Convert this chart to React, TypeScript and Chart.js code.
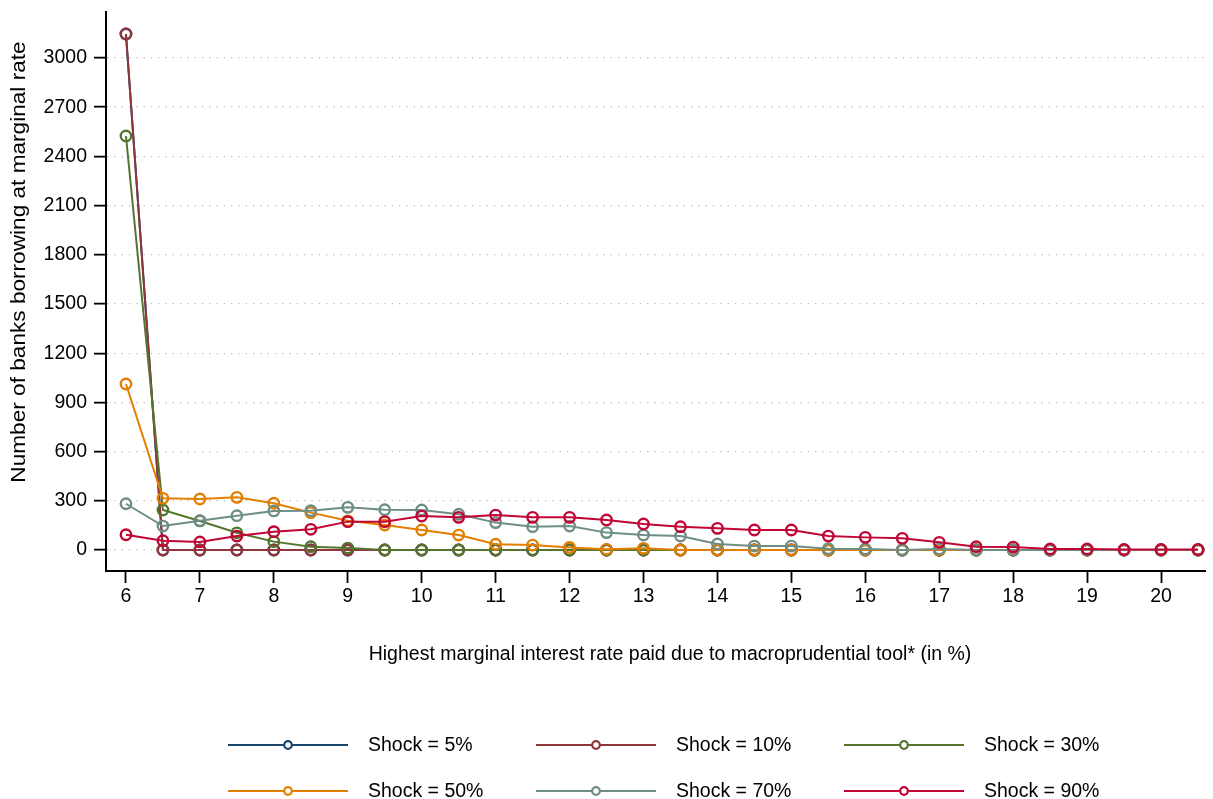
import React, { useEffect, useRef } from "react";
import { Chart, registerables } from "chart.js";

Chart.register(...registerables);

const FONT = "'Liberation Sans', Arial, Helvetica, sans-serif";

const xValues = [6, 6.5, 7, 7.5, 8, 8.5, 9, 9.5, 10, 10.5, 11, 11.5, 12, 12.5, 13, 13.5, 14, 14.5, 15, 15.5, 16, 16.5, 17, 17.5, 18, 18.5, 19, 19.5, 20, 20.5];

const shock5 = [3146, 0, 0, 0, 0, 0, 0, 0, 0, 0, 0, 0, 0, 0, 0, 0, 0, 0, 0, 0, 0, 0, 0, 0, 0, 0, 0, 0, 0, 0];
const shock10 = [3146, 0, 0, 0, 0, 0, 0, 0, 0, 0, 0, 0, 0, 0, 0, 0, 0, 0, 0, 0, 0, 0, 0, 0, 0, 0, 0, 0, 0, 0];
const shock30 = [2524, 244, 177, 105, 51, 20, 12, 0, 0, 0, 0, 0, 0, 0, 0, 0, 0, 0, 0, 0, 0, 0, 0, 0, 0, 0, 0, 0, 0, 0];
const shock50 = [1012, 315, 311, 321, 285, 228, 178, 152, 122, 91, 35, 30, 16, 4, 10, 0, 0, 0, 0, 0, 0, 0, 0, 0, 0, 0, 0, 0, 0, 0];
const shock70 = [282, 146, 179, 209, 238, 240, 260, 246, 244, 218, 167, 142, 146, 106, 91, 85, 37, 24, 24, 8, 6, 0, 6, 0, 0, 0, 0, 0, 0, 0];
const shock90 = [93, 57, 49, 85, 112, 126, 173, 173, 207, 199, 213, 199, 199, 183, 159, 142, 132, 122, 122, 85, 77, 71, 47, 20, 18, 6, 6, 3, 3, 3];

const seriesLabels = ["Shock = 5%", "Shock = 10%", "Shock = 30%", "Shock = 50%", "Shock = 70%", "Shock = 90%"];
const seriesColors = ["#1a476f", "#90353b", "#55752f", "#e37e00", "#6e8e84", "#c10534"];
const seriesValues = [shock5, shock10, shock30, shock50, shock70, shock90];

const yTickValues = [0, 300, 600, 900, 1200, 1500, 1800, 2100, 2400, 2700, 3000];
const xTickValues = [6, 7, 8, 9, 10, 11, 12, 13, 14, 15, 16, 17, 18, 19, 20];

const xTitle = "Highest marginal interest rate paid due to macroprudential tool* (in %)";
const yTitle = "Number of banks borrowing at marginal rate";

const gridLegend = {
  id: "gridLegend",
  afterDraw(chart: any) {
    const ctx = chart.ctx;
    const cols = [228, 536, 844];
    const rows = [745, 791];
    chart.data.datasets.forEach((ds: any, i: number) => {
      const x0 = cols[i % 3];
      const y = rows[Math.floor(i / 3)];
      ctx.save();
      ctx.strokeStyle = ds.borderColor;
      ctx.lineWidth = 2;
      ctx.beginPath();
      ctx.moveTo(x0, y);
      ctx.lineTo(x0 + 120, y);
      ctx.stroke();
      ctx.beginPath();
      ctx.arc(x0 + 60, y, 3.8, 0, Math.PI * 2);
      ctx.fillStyle = "#ffffff";
      ctx.fill();
      ctx.lineWidth = 2.2;
      ctx.stroke();
      ctx.fillStyle = "#000000";
      ctx.font = `19.5px ${FONT}`;
      ctx.textBaseline = "middle";
      ctx.textAlign = "left";
      ctx.fillText(ds.label, x0 + 140, y + 1);
      ctx.restore();
    });
  },
};

const axisTitles = {
  id: "axisTitles",
  afterDraw(chart: any) {
    const ctx = chart.ctx;
    ctx.save();
    ctx.fillStyle = "#000000";
    ctx.font = `19.5px ${FONT}`;
    ctx.textAlign = "center";
    ctx.textBaseline = "middle";
    ctx.fillText(xTitle, 670, 655);
    ctx.restore();

    ctx.save();
    ctx.fillStyle = "#000000";
    ctx.font = `19.5px ${FONT}`;
    ctx.textAlign = "center";
    ctx.textBaseline = "middle";
    ctx.translate(20, 262);
    ctx.rotate(-Math.PI / 2);
    ctx.scale(1.16, 1);
    ctx.fillText(yTitle, 0, 0);
    ctx.restore();
  },
};

export default function App() {
  const canvasRef = useRef<HTMLCanvasElement | null>(null);

  useEffect(() => {
    if (!canvasRef.current) return;
    const datasets = seriesValues.map((vals, i) => ({
      label: seriesLabels[i],
      data: xValues.map((x, j) => ({ x, y: vals[j] })),
      borderColor: seriesColors[i],
      backgroundColor: "rgba(0,0,0,0)",
      pointBackgroundColor: "rgba(0,0,0,0)",
      pointBorderColor: seriesColors[i],
      borderWidth: 2,
      pointRadius: 5.2,
      pointBorderWidth: 2.4,
      pointStyle: "circle",
      tension: 0,
      order: seriesValues.length - i,
    }));

    const chart = new Chart(canvasRef.current, {
      type: "line",
      data: { datasets },
      plugins: [gridLegend, axisTitles],
      options: {
        animation: false,
        responsive: false,
        maintainAspectRatio: false,
        layout: { padding: { top: 12, left: 0, right: 0, bottom: 128 } },
        plugins: {
          legend: { display: false },
          tooltip: { enabled: false },
          title: { display: false },
        },
        scales: {
          x: {
            type: "linear",
            min: 5.73,
            max: 20.6,
            afterBuildTicks: (s: any) => {
              s.ticks = xTickValues.map((v) => ({ value: v }));
            },
            afterFit: (s: any) => {
              s.height = 100;
              s.paddingLeft = 0;
              s.paddingRight = 0;
            },
            grid: {
              display: true,
              drawOnChartArea: false,
              drawTicks: true,
              tickLength: 12,
              tickColor: "#000000",
              tickWidth: 1.8,
            },
            border: { display: true, color: "#000000", width: 2 },
            ticks: {
              color: "#000000",
              font: { family: FONT, size: 19.5 },
              padding: 2,
              maxRotation: 0,
              autoSkip: false,
              callback: (v: any) => String(v),
            },
            title: { display: false, text: xTitle },
          },
          y: {
            type: "linear",
            min: -128,
            max: 3280,
            afterBuildTicks: (s: any) => {
              s.ticks = yTickValues.map((v) => ({ value: v }));
            },
            afterFit: (s: any) => {
              s.width = 106;
              s.paddingTop = 0;
              s.paddingBottom = 0;
            },
            grid: {
              display: true,
              drawOnChartArea: true,
              drawTicks: true,
              color: "#bdbdbd",
              lineWidth: 1.3,
              tickLength: 12,
              tickColor: "#000000",
              tickWidth: 1.8,
            },
            border: { display: true, color: "#000000", width: 2, dash: [1.3, 6] },
            ticks: {
              color: "#000000",
              font: { family: FONT, size: 19.5 },
              padding: 7,
              autoSkip: false,
              callback: (v: any) => String(v),
            },
            title: { display: false, text: yTitle },
          },
        },
      },
    });
    return () => chart.destroy();
  }, []);

  return (
    <div style={{ position: "fixed", left: 0, top: 0, width: 1213, height: 799, background: "#ffffff" }}>
      <canvas ref={canvasRef} width={1213} height={799} style={{ display: "block", width: 1213, height: 799 }} />
    </div>
  );
}
